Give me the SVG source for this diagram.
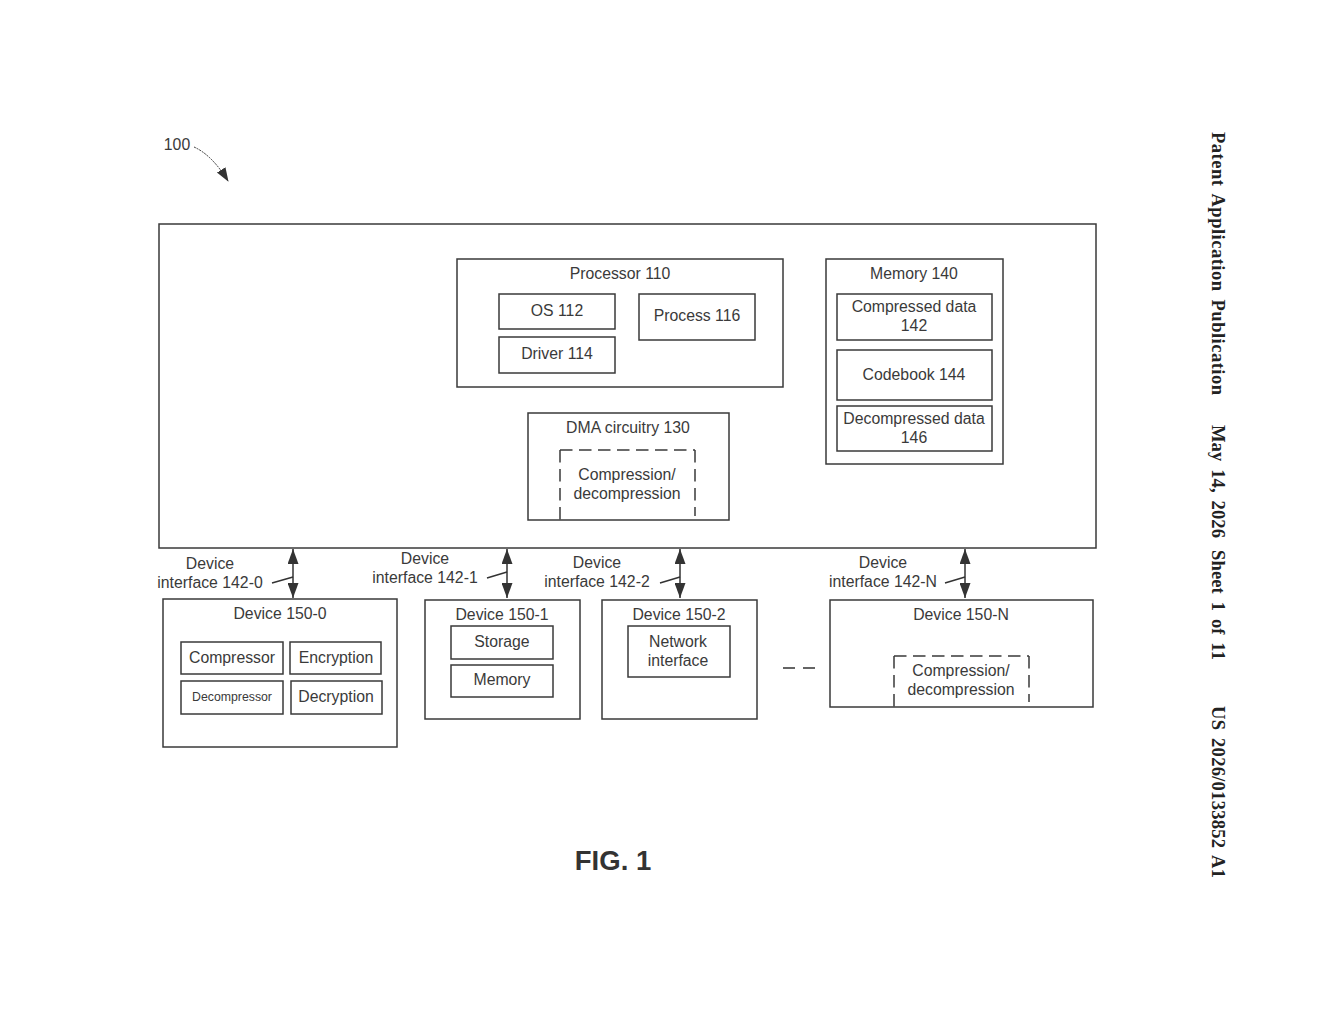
<svg xmlns="http://www.w3.org/2000/svg" width="1320" height="1024" viewBox="0 0 1320 1024">
<style>
.b{fill:none;stroke:#3a3a3a;stroke-width:1.5}
.d{fill:none;stroke:#3a3a3a;stroke-width:1.5;stroke-dasharray:12.5 6.5}
.t{font-family:"Liberation Sans",Arial,sans-serif;font-size:15.8px;fill:#3a3a3a;text-anchor:middle}
.l{fill:none;stroke:#333;stroke-width:1.5}
.h{font-family:"Liberation Serif","Times New Roman",serif;font-size:18.5px;font-weight:bold;fill:#222;word-spacing:3px}
</style>
<defs>
<marker id="a" viewBox="0 0 15 11" refX="15" refY="5.5" markerWidth="15" markerHeight="11" markerUnits="userSpaceOnUse" orient="auto-start-reverse"><path d="M0 0L15 5.5L0 11Z" fill="#333"/></marker>
<marker id="c" viewBox="0 0 14 12" refX="13" refY="6" markerWidth="14" markerHeight="12" markerUnits="userSpaceOnUse" orient="auto"><path d="M0 1L14 6L0 11Z" fill="#333"/></marker>
</defs>
<rect width="1320" height="1024" fill="#fff"/>
<g id="ref-100"><text class="t" x="177" y="150">100</text></g>
<g id="system"><rect class="b" x="159" y="224" width="937" height="324"/></g>
<g id="processor-110"><rect class="b" x="457" y="259" width="326" height="128"/><text class="t" x="620" y="278.500">Processor 110</text></g>
<g id="os-112"><rect class="b" x="499" y="294" width="116" height="35"/><text class="t" x="557" y="316">OS 112</text></g>
<g id="driver-114"><rect class="b" x="499" y="337" width="116" height="36"/><text class="t" x="557" y="359">Driver 114</text></g>
<g id="process-116"><rect class="b" x="639" y="294" width="116" height="46"/><text class="t" x="697" y="321">Process 116</text></g>
<g id="memory-140"><rect class="b" x="826" y="259" width="177" height="205"/><text class="t" x="914" y="278.500">Memory 140</text></g>
<g id="data-142"><rect class="b" x="837" y="294" width="155" height="46"/><text class="t" x="914" y="312">Compressed data</text><text class="t" x="914" y="331">142</text></g>
<g id="codebook-144"><rect class="b" x="837" y="350" width="155" height="50"/><text class="t" x="914" y="379.500">Codebook 144</text></g>
<g id="data-146"><rect class="b" x="837" y="406" width="155" height="45"/><text class="t" x="914" y="424">Decompressed data</text><text class="t" x="914" y="443">146</text></g>
<g id="dma-130"><rect class="b" x="528" y="413" width="201" height="107"/><text class="t" x="628" y="432.500">DMA circuitry 130</text><path class="d" d="M560 450V520M560 450H695M695 450V516"/><text class="t" x="627" y="480">Compression/</text><text class="t" x="627" y="499">decompression</text></g>
<g id="device-150-0"><rect class="b" x="163" y="599" width="234" height="148"/><text class="t" x="280" y="618.500">Device 150-0</text></g>
<g id="compressor"><rect class="b" x="181" y="642" width="102" height="32"/><text class="t" x="232" y="663">Compressor</text></g>
<g id="encryption"><rect class="b" x="290" y="642" width="91" height="32"/><text class="t" x="336" y="663">Encryption</text></g>
<g id="decompressor"><rect class="b" x="181" y="681" width="102" height="33"/><text class="t" x="232" y="701" style="font-size:12.300px">Decompressor</text></g>
<g id="decryption"><rect class="b" x="291" y="681" width="91" height="33"/><text class="t" x="336" y="702">Decryption</text></g>
<g id="device-150-1"><rect class="b" x="425" y="600" width="155" height="119"/><text class="t" x="502" y="619.500">Device 150-1</text></g>
<g id="storage"><rect class="b" x="451" y="626" width="102" height="33"/><text class="t" x="502" y="647">Storage</text></g>
<g id="memory"><rect class="b" x="451" y="665" width="102" height="32"/><text class="t" x="502" y="685">Memory</text></g>
<g id="device-150-2"><rect class="b" x="602" y="600" width="155" height="119"/><text class="t" x="679" y="619.500">Device 150-2</text></g>
<g id="network"><rect class="b" x="628" y="626" width="102" height="51"/><text class="t" x="678" y="647">Network</text><text class="t" x="678" y="666">interface</text></g>
<g id="device-150-N"><rect class="b" x="830" y="600" width="263" height="107"/><text class="t" x="961" y="619.500">Device 150-N</text><path class="d" d="M894 656V707M894 656H1029M1029 656V702"/><text class="t" x="961" y="676">Compression/</text><text class="t" x="961" y="695">decompression</text></g>
<g id="labels">
<text class="t" x="210" y="569">Device</text><text class="t" x="210" y="588">interface 142-0</text>
<text class="t" x="425" y="564">Device</text><text class="t" x="425" y="583">interface 142-1</text>
<text class="t" x="597" y="568">Device</text><text class="t" x="597" y="587">interface 142-2</text>
<text class="t" x="883" y="568">Device</text><text class="t" x="883" y="587">interface 142-N</text>
</g>
<g id="connectors">
<path class="l" d="M293 549V598" marker-start="url(#a)" marker-end="url(#a)"/>
<path class="l" d="M507 549V598" marker-start="url(#a)" marker-end="url(#a)"/>
<path class="l" d="M680 549V598" marker-start="url(#a)" marker-end="url(#a)"/>
<path class="l" d="M965 549V598" marker-start="url(#a)" marker-end="url(#a)"/>
<path class="l" d="M272 583L293 577M487 578L507 572M660 583L680 577M945 583L965 577"/>
<path class="l" d="M783 668H795M803 668H815"/>
<path d="M194 147Q212 155 228 181" fill="none" stroke="#333" stroke-width="1" stroke-dasharray="2 1" marker-end="url(#c)"/>
</g>
<g id="fig"><text x="613" y="870" style="font-family:'Liberation Sans',Arial,sans-serif;font-size:27.500px;font-weight:bold;fill:#333;text-anchor:middle">FIG. 1</text></g>
<g id="header">
<text class="h" transform="translate(1212 132) rotate(90)" textLength="263">Patent Application Publication</text>
<text class="h" transform="translate(1212 425) rotate(90)" textLength="113">May 14, 2026</text>
<text class="h" transform="translate(1212 550) rotate(90)" textLength="110">Sheet 1 of 11</text>
<text class="h" transform="translate(1212 706) rotate(90)" textLength="172">US 2026/0133852 A1</text>
</g>
</svg>
